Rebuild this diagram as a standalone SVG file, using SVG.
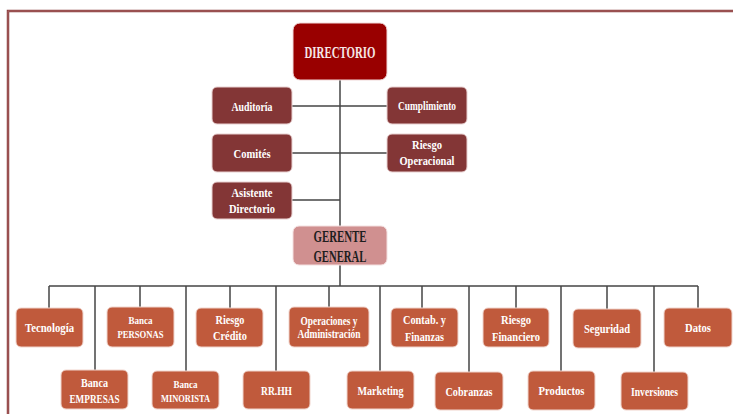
<svg xmlns="http://www.w3.org/2000/svg" width="733" height="414" viewBox="0 0 733 414">
<style>
.t{font-family:"Liberation Serif","DejaVu Serif",serif;font-weight:bold;text-anchor:middle;fill:#fff}
.dk rect{fill:#833636;stroke:#e8d0d0;stroke-width:1}
.or rect{fill:#c05a3c;stroke:#f0d4cc;stroke-width:1}
.con line{stroke:#444;stroke-width:1.5}
</style>
<rect width="733" height="414" fill="#fff"/>
<g id="frame" fill="none">
<path d="M8 414 V11 H733" stroke="#8b4040" stroke-width="2.5"/>
<path d="M8 414 V11 H733" stroke="#b06a6a" stroke-width="0.8"/>
</g>
<g class="con">
<line x1="340" y1="80" x2="340" y2="226"/>
<line x1="292" y1="106" x2="387" y2="106"/>
<line x1="292" y1="153" x2="387" y2="153"/>
<line x1="292" y1="200" x2="340" y2="200"/>
<line x1="340" y1="265" x2="340" y2="286"/>
<line x1="49" y1="286" x2="698" y2="286"/>
<line x1="49" y1="286" x2="49" y2="308"/>
<line x1="95" y1="286" x2="95" y2="370"/>
<line x1="140" y1="286" x2="140" y2="307"/>
<line x1="186" y1="286" x2="186" y2="371"/>
<line x1="230" y1="286" x2="230" y2="308"/>
<line x1="276" y1="286" x2="276" y2="371"/>
<line x1="329" y1="286" x2="329" y2="307"/>
<line x1="380" y1="286" x2="380" y2="371"/>
<line x1="422" y1="286" x2="422" y2="308"/>
<line x1="469" y1="286" x2="469" y2="372"/>
<line x1="516" y1="286" x2="516" y2="308"/>
<line x1="561" y1="286" x2="561" y2="371"/>
<line x1="607" y1="286" x2="607" y2="309"/>
<line x1="654" y1="286" x2="654" y2="372"/>
<line x1="698" y1="286" x2="698" y2="308"/>
</g>
<g id="directorio"><rect x="293" y="23" width="94" height="57" rx="7" fill="#990000" stroke="#f0d8d8"/><text class="t" x="340" y="58" font-size="17" textLength="71" lengthAdjust="spacingAndGlyphs" style="fill:#f5e6e6">DIRECTORIO</text></g>
<g id="auditoria" class="dk"><rect x="212" y="87" width="80" height="37" rx="5"/><text class="t" x="252" y="110.5" font-size="13" textLength="41" lengthAdjust="spacingAndGlyphs">Auditoría</text></g>
<g id="cumplimiento" class="dk"><rect x="387" y="87" width="80" height="37" rx="5"/><text class="t" x="427" y="110" font-size="12.5" textLength="58" lengthAdjust="spacingAndGlyphs">Cumplimiento</text></g>
<g id="comites" class="dk"><rect x="212" y="134" width="80" height="38" rx="5"/><text class="t" x="252" y="157.5" font-size="13" textLength="37" lengthAdjust="spacingAndGlyphs">Comités</text></g>
<g id="riesgo-operacional" class="dk"><rect x="387" y="134" width="80" height="38" rx="5"/><text class="t" x="427" y="149" font-size="12.5" textLength="30" lengthAdjust="spacingAndGlyphs">Riesgo</text><text class="t" x="427" y="165" font-size="12.5" textLength="55" lengthAdjust="spacingAndGlyphs">Operacional</text></g>
<g id="asistente" class="dk"><rect x="212" y="182" width="80" height="37" rx="5"/><text class="t" x="252" y="196.5" font-size="13" textLength="41" lengthAdjust="spacingAndGlyphs">Asistente</text><text class="t" x="252" y="213" font-size="13" textLength="46" lengthAdjust="spacingAndGlyphs">Directorio</text></g>
<g id="gerente"><rect x="293" y="226" width="94" height="39" rx="6" fill="#d09090" stroke="#f4e0e0"/><text class="t" x="340" y="241.5" font-size="16" textLength="53" lengthAdjust="spacingAndGlyphs" style="fill:#1e1e1e">GERENTE</text><text class="t" x="340" y="261.5" font-size="16" textLength="53" lengthAdjust="spacingAndGlyphs" style="fill:#1e1e1e">GENERAL</text></g>
<g id="tecnologia" class="or"><rect x="16" y="308" width="67" height="39" rx="5"/><text class="t" x="49.5" y="331.5" font-size="13" textLength="49" lengthAdjust="spacingAndGlyphs">Tecnología</text></g>
<g id="banca-personas" class="or"><rect x="107" y="307" width="67" height="40" rx="5"/><text class="t" x="140.5" y="323.5" font-size="11" textLength="24" lengthAdjust="spacingAndGlyphs">Banca</text><text class="t" x="140.5" y="337.5" font-size="11" textLength="46" lengthAdjust="spacingAndGlyphs">PERSONAS</text></g>
<g id="riesgo-credito" class="or"><rect x="196" y="308" width="67" height="39" rx="5"/><text class="t" x="230" y="324" font-size="13" textLength="29" lengthAdjust="spacingAndGlyphs">Riesgo</text><text class="t" x="230" y="340" font-size="13" textLength="34" lengthAdjust="spacingAndGlyphs">Crédito</text></g>
<g id="operaciones" class="or"><rect x="289" y="307" width="80" height="40" rx="5"/><text class="t" x="329" y="324.5" font-size="11.5" textLength="57" lengthAdjust="spacingAndGlyphs">Operaciones y</text><text class="t" x="329" y="337.5" font-size="11.5" textLength="63" lengthAdjust="spacingAndGlyphs">Administración</text></g>
<g id="contab" class="or"><rect x="391" y="308" width="67" height="39" rx="5"/><text class="t" x="424.5" y="324" font-size="13" textLength="43" lengthAdjust="spacingAndGlyphs">Contab. y</text><text class="t" x="424.5" y="340.5" font-size="13" textLength="39" lengthAdjust="spacingAndGlyphs">Finanzas</text></g>
<g id="riesgo-financiero" class="or"><rect x="483" y="308" width="66" height="39" rx="5"/><text class="t" x="516" y="324" font-size="12.5" textLength="30" lengthAdjust="spacingAndGlyphs">Riesgo</text><text class="t" x="516" y="340.5" font-size="12.5" textLength="48" lengthAdjust="spacingAndGlyphs">Financiero</text></g>
<g id="seguridad" class="or"><rect x="573" y="309" width="68" height="39" rx="5"/><text class="t" x="607" y="332.5" font-size="13" textLength="46" lengthAdjust="spacingAndGlyphs">Seguridad</text></g>
<g id="datos" class="or"><rect x="664" y="308" width="68" height="39" rx="5"/><text class="t" x="698" y="331.5" font-size="13" textLength="26" lengthAdjust="spacingAndGlyphs">Datos</text></g>
<g id="banca-empresas" class="or"><rect x="61" y="370" width="67" height="39" rx="5"/><text class="t" x="94.5" y="386.5" font-size="12" textLength="27" lengthAdjust="spacingAndGlyphs">Banca</text><text class="t" x="94.5" y="402.5" font-size="12" textLength="50" lengthAdjust="spacingAndGlyphs">EMPRESAS</text></g>
<g id="banca-minorista" class="or"><rect x="152" y="371" width="67" height="38" rx="5"/><text class="t" x="185.5" y="387.5" font-size="11" textLength="24" lengthAdjust="spacingAndGlyphs">Banca</text><text class="t" x="185.5" y="402" font-size="11" textLength="49" lengthAdjust="spacingAndGlyphs">MINORISTA</text></g>
<g id="rrhh" class="or"><rect x="243" y="371" width="67" height="38" rx="5"/><text class="t" x="276.5" y="394.5" font-size="13" textLength="31" lengthAdjust="spacingAndGlyphs">RR.HH</text></g>
<g id="marketing" class="or"><rect x="347" y="371" width="67" height="38" rx="5"/><text class="t" x="380.5" y="394.5" font-size="13" textLength="46" lengthAdjust="spacingAndGlyphs">Marketing</text></g>
<g id="cobranzas" class="or"><rect x="435" y="372" width="68" height="38" rx="5"/><text class="t" x="469" y="396" font-size="13" textLength="47" lengthAdjust="spacingAndGlyphs">Cobranzas</text></g>
<g id="productos" class="or"><rect x="528" y="371" width="67" height="39" rx="5"/><text class="t" x="561.5" y="394.5" font-size="13" textLength="46" lengthAdjust="spacingAndGlyphs">Productos</text></g>
<g id="inversiones" class="or"><rect x="621" y="372" width="67" height="38" rx="5"/><text class="t" x="654.5" y="396" font-size="12" textLength="47" lengthAdjust="spacingAndGlyphs">Inversiones</text></g>
</svg>
